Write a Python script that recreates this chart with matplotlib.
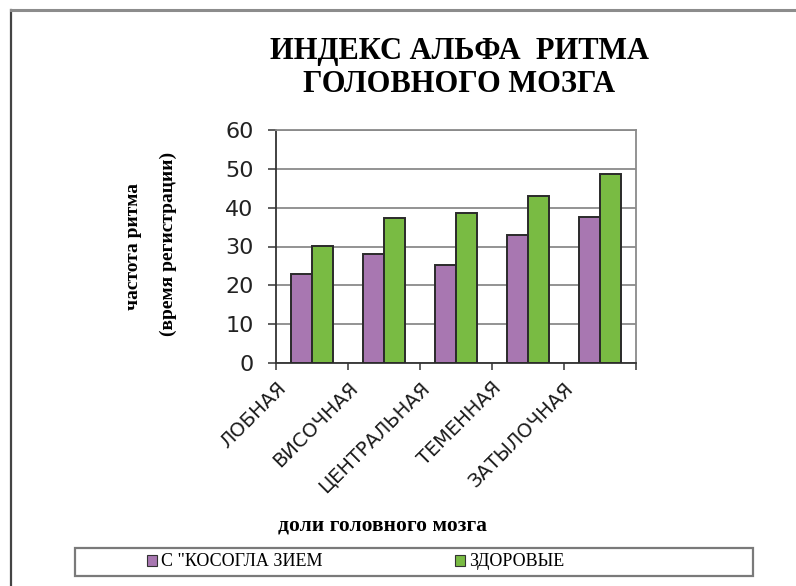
import matplotlib
matplotlib.use("Agg")
import matplotlib.pyplot as plt
import numpy as np
from matplotlib.patches import Rectangle, Patch
from matplotlib.lines import Line2D

# Data
lobes = ["ЛОБНАЯ", "ВИСОЧНАЯ", "ЦЕНТРАЛЬНАЯ", "ТЕМЕННАЯ", "ЗАТЫЛОЧНАЯ"]
strabismus = [23.0, 28.0, 25.3, 32.9, 37.5]
healthy = [30.1, 37.4, 38.5, 43.0, 48.7]
series_names = ['С "КОСОГЛА ЗИЕМ', "ЗДОРОВЫЕ"]
yticks = [0, 10, 20, 30, 40, 50, 60]

purple = "#a877b1"
green = "#79bb43"
grid_grey = "#8a8a8a"

W, H = 796, 586
fig = plt.figure(figsize=(W / 100, H / 100), dpi=100)
fig.patch.set_facecolor("white")


def fx(px):
    return px / W


def fy(py):
    return 1 - py / H


ax = fig.add_axes([fx(276), fy(363), fx(636) - fx(276), fy(130) - fy(363)])

n = len(lobes)
x = np.arange(n) + 0.5
bw = 0.285
ax.bar(x - bw / 2, strabismus, bw, color=purple, edgecolor="#2a2a2a",
       linewidth=1.4, zorder=3, label=series_names[0])
ax.bar(x + bw / 2, healthy, bw, color=green, edgecolor="#2a2a2a",
       linewidth=1.4, zorder=3, label=series_names[1])

ax.set_xlim(0, n)
ax.set_ylim(0, 60)
ax.set_yticks(yticks)
ax.yaxis.grid(True, color=grid_grey, linewidth=1.3, zorder=0)
ax.set_axisbelow(True)

# Category labels sit on the category boundaries
ax.set_xticks(np.arange(n + 1))
ax.set_xticklabels(lobes + [""], rotation=45, ha="right", va="top",
                   rotation_mode="anchor", fontsize=14,
                   family="DejaVu Sans", color="#1a1a1a")
ax.tick_params(axis="x", direction="out", length=5, width=1.2,
               color="#444444", pad=6)
ax.tick_params(axis="y", direction="out", length=6, width=1.2,
               color="#444444", pad=10, labelsize=16)
for lab in ax.get_yticklabels():
    lab.set_family("DejaVu Sans")
    lab.set_color("#222222")

for side in ("top", "right"):
    ax.spines[side].set_color(grid_grey)
    ax.spines[side].set_linewidth(1.3)
ax.spines["left"].set_color("#333333")
ax.spines["left"].set_linewidth(1.3)
ax.spines["bottom"].set_color("#333333")
ax.spines["bottom"].set_linewidth(1.3)

# Titles and axis labels
serif = "Liberation Serif"
fig.text(fx(459), fy(51), "ИНДЕКС АЛЬФА  РИТМА", ha="center", va="center",
         fontsize=22, fontweight="bold", family=serif)
fig.text(fx(459), fy(85), "ГОЛОВНОГО МОЗГА", ha="center", va="center",
         fontsize=22, fontweight="bold", family=serif)

fig.text(fx(133), fy(246), "частота ритма", rotation=90, ha="center",
         va="center", fontsize=14, fontweight="bold", family=serif)
fig.text(fx(168), fy(244), "(время регистрации)", rotation=90,
         ha="center", va="center", fontsize=14, fontweight="bold",
         family=serif)

fig.text(fx(382), fy(525), "доли головного мозга", ha="center",
         va="center", fontsize=15.5, fontweight="bold", family=serif)

# Outer frame (left and top edges)
fig.add_artist(Line2D([fx(11), fx(11)], [0, fy(10)], color="#444444",
                      linewidth=1.6, transform=fig.transFigure))
fig.add_artist(Line2D([fx(11), 1], [fy(10), fy(10)], color="#8c8c8c",
                      linewidth=2.2, transform=fig.transFigure))

# Legend box
fig.add_artist(Rectangle((fx(75), fy(576)), fx(753) - fx(75),
                         fy(548) - fy(576), transform=fig.transFigure,
                         facecolor="white", edgecolor="#7a7a7a",
                         linewidth=1.6))
handles = [Patch(facecolor=purple, edgecolor="#333333", linewidth=0.8),
           Patch(facecolor=green, edgecolor="#333333", linewidth=0.8)]
leg = fig.legend(handles, series_names, ncol=2, frameon=False,
                 loc="center left", bbox_to_anchor=(fx(147), fy(562)),
                 prop={"family": serif, "size": 13},
                 handlelength=0.55, handleheight=0.55, handletextpad=0.25,
                 columnspacing=7.3, borderaxespad=0, borderpad=0)

fig.savefig("out.png", dpi=100, facecolor="white")
